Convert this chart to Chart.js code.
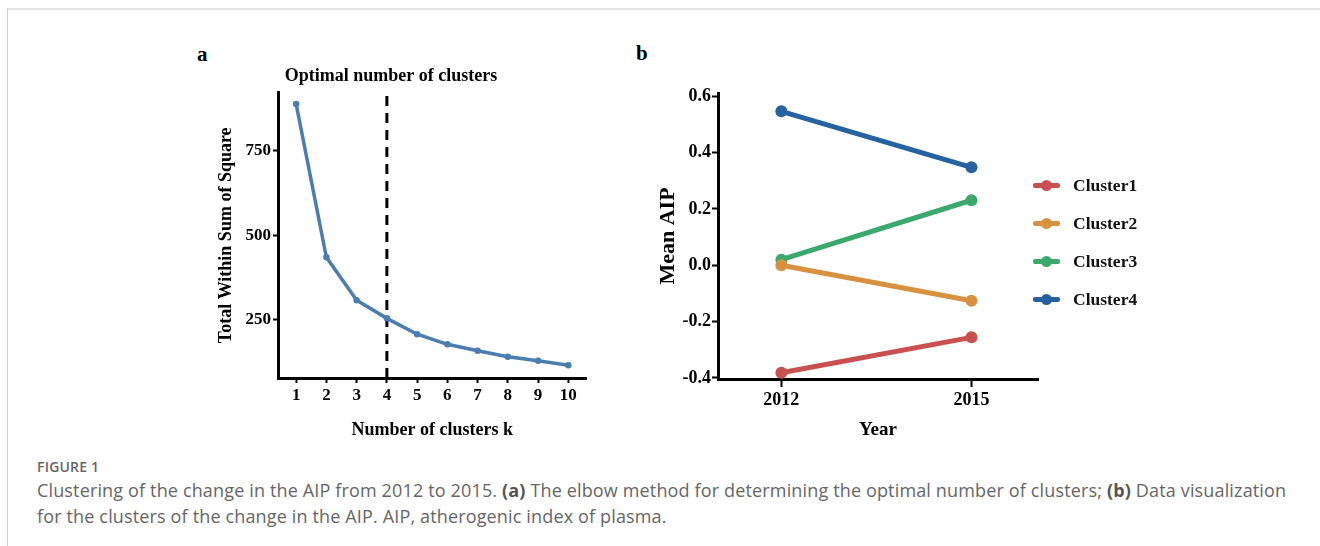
<!DOCTYPE html>
<html>
<head>
<meta charset="utf-8">
<script src="https://cdn.jsdelivr.net/npm/chart.js@4.4.1/dist/chart.umd.min.js"></script>
<style>
  html, body { margin:0; padding:0; background:#fff; }
  body { width:1320px; height:546px; position:relative; overflow:hidden; }
  .frame-top { position:absolute; left:7px; top:8px; width:1313px; height:2px; background:#e3e3e3; }
  .frame-left { position:absolute; left:7px; top:8px; width:1px; height:538px; background:#cfcfcf; }
  canvas { position:absolute; }
  .panel { position:absolute; font-family:"Liberation Serif", "Times New Roman", serif; font-weight:bold; font-size:21px; color:#000; }
  #legend { position:absolute; left:1033px; top:166px; font-family:"Liberation Serif", "Times New Roman", serif; font-weight:bold; font-size:17.5px; color:#111; }
  .li { height:38px; display:flex; align-items:center; }
  .sw { position:relative; width:27px; height:5px; border-radius:2px; margin-right:13px; }
  .sw i { position:absolute; left:8px; top:-3px; width:11px; height:11px; border-radius:50%; }
  .cap-h { position:absolute; left:37px; top:457px; font-family:"Open Sans", sans-serif; font-size:14px; letter-spacing:0.2px; font-weight:600; color:#666; }
  .cap { position:absolute; left:37px; top:477px; font-family:"Open Sans", sans-serif; font-size:18px; letter-spacing:0.15px; line-height:26px; color:#666; white-space:nowrap; }
  .cap b { font-weight:700; color:#555; }
</style>
</head>
<body>
<div class="frame-top"></div>
<div class="frame-left"></div>
<div class="panel" style="left:197px; top:42px;">a</div>
<div class="panel" style="left:636px; top:41px;">b</div>
<canvas id="ca" width="400" height="405" style="left:194px; top:40px;"></canvas>
<canvas id="cb" width="420" height="405" style="left:630px; top:40px;"></canvas>
<div id="legend"></div>
<div class="cap-h">FIGURE 1</div>
<div class="cap">Clustering of the change in the AIP from 2012 to 2015. <b>(a)</b> The elbow method for determining the optimal number of clusters; <b>(b)</b> Data visualization<br>for the clusters of the change in the AIP. AIP, atherogenic index of plasma.</div>
<script>
// ---- Panel a data ----
const kValues = [1, 2, 3, 4, 5, 6, 7, 8, 9, 10];
const wss = [889, 434, 307, 253, 206, 176, 157, 139, 127, 114];
const optimalK = 4;
const yTicksA = [250, 500, 750];
const yRangeA = [76, 923];
const xRangeA = [0.4, 10.6];

// ---- Panel b data ----
const years = [2012, 2015];
const clusterNames = ["Cluster1", "Cluster2", "Cluster3", "Cluster4"];
const cluster1 = [-0.382, -0.256];
const cluster2 = [0.0, -0.126];
const cluster3 = [0.020, 0.231];
const cluster4 = [0.547, 0.348];
const yTicksB = [-0.4, -0.2, 0.0, 0.2, 0.4, 0.6];
const yRangeB = [-0.404, 0.612];
const xRangeB = [2011, 2016.05];
const clusterColors = ["#c9504f", "#d8913f", "#3ca96c", "#26629f"];

const SERIF = '"Liberation Serif", "Times New Roman", serif';

function axisCommon(tickLen) {
  return {
    grid: { display: true, drawOnChartArea: false, drawTicks: true, tickLength: tickLen, tickWidth: 2, tickColor: '#000', color: '#000' },
    border: { display: true, color: '#000', width: 3 }
  };
}

// Panel a chart
new Chart(document.getElementById('ca'), {
  type: 'line',
  data: {
    datasets: [
      {
        label: 'WSS',
        data: kValues.map((k, i) => ({ x: k, y: wss[i] })),
        borderColor: '#4a7db0',
        backgroundColor: '#4a7db0',
        borderWidth: 3.5,
        pointRadius: 1.5,
        tension: 0
      },
      {
        label: 'optimal',
        data: [{ x: optimalK, y: yRangeA[0] }, { x: optimalK, y: yRangeA[1] }],
        borderColor: '#000',
        borderWidth: 3,
        borderDash: [10, 7],
        pointRadius: 0
      }
    ]
  },
  options: {
    responsive: false,
    animation: false,
    devicePixelRatio: 1,
    layout: { padding: { left: 0, right: 6, top: 0, bottom: 0 } },
    plugins: {
      legend: { display: false },
      tooltip: { enabled: false },
      title: {
        display: true,
        text: 'Optimal number of clusters',
        color: '#000',
        font: { family: SERIF, size: 18, weight: 'bold', lineHeight: 1.2 },
        padding: { top: 26, bottom: 5 }
      }
    },
    scales: {
      x: Object.assign(axisCommon(5), {
        type: 'linear',
        min: xRangeA[0], max: xRangeA[1],
        afterBuildTicks: s => { s.ticks = kValues.map(v => ({ value: v })); },
        afterFit: s => { s.height = 67; },
        ticks: { color: '#000', font: { family: SERIF, size: 17, weight: 'bold' }, padding: 2, maxRotation: 0, autoSkip: false },
        title: { display: true, text: 'Number of clusters k', color: '#000', font: { family: SERIF, size: 18, weight: 'bold', lineHeight: 1.2 }, padding: { top: 0, bottom: 4 } }
      }),
      y: Object.assign(axisCommon(5), {
        type: 'linear',
        min: yRangeA[0], max: yRangeA[1],
        afterBuildTicks: s => { s.ticks = yTicksA.map(v => ({ value: v })); },
        afterFit: s => { s.width = 84; },
        ticks: { color: '#000', font: { family: SERIF, size: 17, weight: 'bold' }, padding: 2 },
        title: { display: true, text: 'Total Within Sum of Square', color: '#000', font: { family: SERIF, size: 18, weight: 'bold', lineHeight: 1.2 }, padding: { top: 22, bottom: 0 } }
      })
    }
  }
});

// Panel b chart
const clusterData = [cluster1, cluster2, cluster3, cluster4];
new Chart(document.getElementById('cb'), {
  type: 'line',
  data: {
    datasets: clusterData.map((vals, i) => ({
      label: clusterNames[i],
      data: years.map((yr, j) => ({ x: yr, y: vals[j] })),
      borderColor: clusterColors[i],
      backgroundColor: clusterColors[i],
      borderWidth: 5,
      pointRadius: 6,
      pointBorderWidth: 0,
      tension: 0
    }))
  },
  options: {
    responsive: false,
    animation: false,
    devicePixelRatio: 1,
    layout: { padding: { left: 0, right: 12, top: 53, bottom: 0 } },
    plugins: { legend: { display: false }, tooltip: { enabled: false }, title: { display: false } },
    scales: {
      x: Object.assign(axisCommon(8), {
        type: 'linear',
        min: xRangeB[0], max: xRangeB[1],
        afterBuildTicks: s => { s.ticks = years.map(v => ({ value: v })); },
        afterFit: s => { s.height = 66; },
        ticks: { color: '#000', font: { family: SERIF, size: 18, weight: 'bold' }, padding: 3, maxRotation: 0, autoSkip: false, callback: v => String(v) },
        title: { display: true, text: 'Year', color: '#000', font: { family: SERIF, size: 19, weight: 'bold', lineHeight: 1.2 }, padding: { top: 0, bottom: 4 } }
      }),
      y: Object.assign(axisCommon(6), {
        type: 'linear',
        min: yRangeB[0], max: yRangeB[1],
        afterBuildTicks: s => { s.ticks = yTicksB.map(v => ({ value: v })); },
        afterFit: s => { s.width = 88; },
        ticks: { color: '#000', font: { family: SERIF, size: 18, weight: 'bold' }, padding: 1, callback: v => Number(v).toFixed(1) },
        title: { display: true, text: 'Mean AIP', color: '#000', font: { family: SERIF, size: 22, weight: 'bold', lineHeight: 1.2 }, padding: { top: 25, bottom: 0 } }
      })
    }
  }
});

// Legend
const legend = document.getElementById('legend');
clusterNames.forEach((name, i) => {
  const row = document.createElement('div');
  row.className = 'li';
  row.innerHTML = '<span class="sw" style="background:' + clusterColors[i] + '"><i style="background:' + clusterColors[i] + '"></i></span><span>' + name + '</span>';
  legend.appendChild(row);
});
</script>
</body>
</html>
